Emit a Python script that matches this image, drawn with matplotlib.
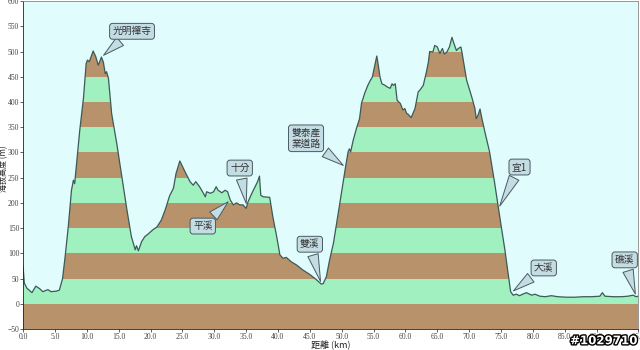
import matplotlib
matplotlib.use("Agg")
import matplotlib.pyplot as plt
import matplotlib.patheffects as pe
import numpy as np

# Elevation profile (distance in km, elevation in m)
dist = [0.0, 0.2, 0.6, 1.4, 2.0, 2.6, 3.1, 3.9, 4.4, 5.2, 5.7, 6.2, 6.6, 7.1, 7.6, 7.9, 8.1, 8.4,
        8.9, 9.2, 9.5, 9.9, 10.1, 10.4, 11.0, 11.4, 11.8, 12.0, 12.3, 12.6, 12.9, 13.1, 13.4, 13.9,
        14.7, 15.5, 16.3, 17.0, 17.6, 17.8, 18.1, 18.6, 19.1, 19.6, 20.4, 21.0, 21.7, 22.3, 23.0,
        23.6, 24.0, 24.6, 25.4, 26.2, 26.7, 27.1, 27.7, 28.3, 28.6, 28.8, 29.4, 29.9, 30.3, 30.6,
        31.2, 31.7, 32.1, 32.5, 33.0, 33.5, 34.0, 34.5, 35.0, 35.3, 35.9, 36.4, 36.8, 37.1, 37.3,
        37.7, 38.7, 39.2, 39.8, 40.3, 40.8, 41.3, 42.1, 42.9, 43.9, 45.0, 46.0, 46.8, 47.1, 47.6,
        48.1, 48.7, 49.2, 49.7, 50.2, 50.6, 51.0, 51.2, 51.4, 51.8, 52.3, 52.8, 53.1, 53.6, 54.1,
        54.5, 54.8, 55.2, 55.5, 55.7, 56.0, 56.3, 56.8, 57.1, 57.6, 57.9, 58.1, 58.4, 58.7, 59.2,
        59.6, 59.9, 60.2, 60.4, 60.9, 61.5, 62.0, 62.3, 62.8, 63.3, 63.6, 63.8, 64.3, 64.6, 65.0,
        65.4, 65.8, 66.1, 66.5, 66.9, 67.3, 67.6, 68.0, 68.3, 68.7, 68.9, 69.6, 70.4, 70.9, 71.1,
        71.4, 71.7, 72.0, 72.4, 73.2, 74.0, 74.8, 75.6, 76.1, 76.5, 76.9, 77.4, 77.9, 78.4, 79.0,
        79.8, 80.3, 81.1, 81.9, 82.9, 83.9, 85.3, 86.6, 87.9, 89.2, 90.5, 90.9, 91.3, 92.6, 93.9,
        94.9, 95.7, 96.2, 96.5]
elev = [75, 41, 31, 22, 35, 30, 24, 28, 24, 25, 27, 50, 93, 153, 225, 245, 238, 278,
        344, 377, 410, 476, 483, 480, 501, 490, 473, 479, 489, 479, 456, 460, 447, 377,
        318, 252, 186, 133, 107, 115, 105, 123, 133, 138, 147, 152, 166, 186, 214,
        229, 258, 283, 262, 242, 235, 242, 232, 219, 212, 222, 219, 222, 232, 225,
        220, 225, 222, 206, 196, 200, 196, 196, 189, 202, 219, 232, 242, 253, 215,
        212, 211, 172, 133, 97, 90, 92, 83, 77, 67, 58, 48, 39, 40, 54,
        87, 120, 159, 199, 239, 271, 301, 307, 301, 324, 347, 367, 397, 417, 433,
        443, 449, 473, 491, 476, 450, 436, 433, 430, 427, 436, 433, 436, 403, 397,
        384, 387, 377, 376, 369, 387, 420, 424, 433, 460, 479, 500, 499, 512, 509,
        496, 506, 495, 499, 509, 528, 516, 502, 506, 509, 496, 443, 410, 387, 367,
        374, 386, 367, 344, 301, 239, 172, 107, 60, 24, 17, 19, 16, 19, 22,
        17, 19, 15, 14, 16, 14, 13, 13, 14, 14, 15, 22, 15, 14, 14,
        15, 17, 14, 15]

# Landmarks along the route
place_names = ["光明禪寺", "平溪", "十分", "雙溪", "雙泰產\n業道路", "宜1", "大溪", "礁溪"]
place_km = [12.3, 32.5, 35.1, 46.8, 50.6, 74.6, 76.6, 96.2]
# label box positions (km, m)
label_pos = [(17.1, 540), (28.2, 154), (34.0, 269), (45.0, 118), (44.4, 328),
             (77.9, 271), (81.7, 71), (94.4, 87)]

xticks = [0, 5, 10, 15, 20, 25, 30, 35, 40, 45, 50, 55, 60, 65, 70, 75, 80, 85, 90, 96.5]
yticks = list(range(-50, 601, 50))

brown = "#b8926a"
green = "#a0f0c0"
cjk = ["Noto Sans CJK TC", "DejaVu Sans"]

fig = plt.figure(figsize=(6.4, 3.5), dpi=100)
ax = fig.add_axes([0.036, 0.06, 0.961, 0.937])
ax.set_facecolor("#e0fcfc")

x = np.array(dist)
y = np.array(elev)
base = ax.fill_between(x, -50, y, color="none", lw=0)
clip = base.get_paths()[0]
for lo in range(-50, 600, 50):
    col = brown if (lo // 50) % 2 != 0 else green
    band = ax.axhspan(lo, lo + 50, color=col, lw=0)
    band.set_clip_path(clip, ax.transData)
ax.plot(x, y, color="#3c5a58", lw=0.9)

for name, km, pos in zip(place_names, place_km, label_pos):
    h = np.interp(km, x, y)
    ax.annotate(name, xy=(km, h), xytext=pos, ha="center", va="center",
                fontsize=7, family=cjk, color="#333333", linespacing=1.1,
                bbox=dict(boxstyle="round,pad=0.3,rounding_size=0.3", fc="#c4dde4", ec="#4a5a60", lw=0.7),
                arrowprops=dict(arrowstyle="wedge,tail_width=1.1,shrink_factor=0.5",
                                fc="#c4dde4", ec="#4a5a60", lw=0.7))

ax.set_xlim(0, 96.5)
ax.set_ylim(-50, 600)
ax.set_xticks(xticks)
ax.set_xticklabels(["%.1f" % t for t in xticks])
ax.set_yticks(yticks)
ax.tick_params(labelsize=5.5, colors="#444444", length=2, width=0.6, pad=0.8)
for lab in ax.get_xticklabels() + ax.get_yticklabels():
    lab.set_family("Liberation Serif")
for s in ax.spines.values():
    s.set_color("#888888")
    s.set_linewidth(0.6)
ax.spines["left"].set_color("#222222")
ax.spines["bottom"].set_color("#222222")

ax.set_xlabel("距離 (km)", fontsize=6.5, family=cjk, labelpad=0, color="#222222")
ax.set_ylabel("海拔高度 (m)", fontsize=5.8, family=cjk, color="#222222")
ax.yaxis.set_label_coords(-0.0236, 0.49)

fig.text(0.995, 0.008, "#1029710", ha="right", va="bottom", fontsize=8.5, fontweight="bold",
         color="white", path_effects=[pe.withStroke(linewidth=2, foreground="black")])

fig.savefig("out.png", dpi=100)
